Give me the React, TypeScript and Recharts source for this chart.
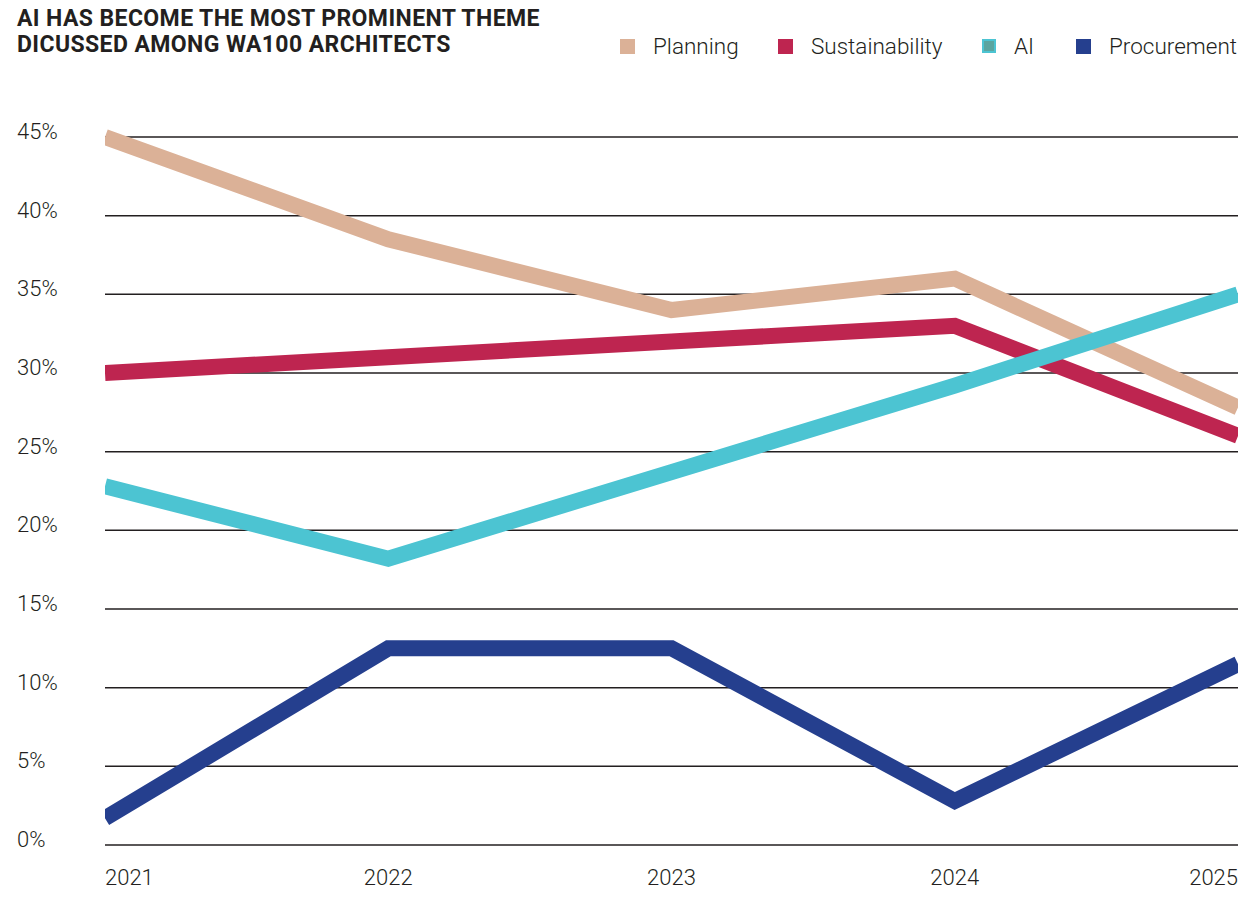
import React from 'react'
import { LineChart, Line, XAxis, YAxis, CartesianGrid } from 'recharts'

const years = ['2021', '2022', '2023', '2024', '2025']
const planning = [45, 38.5, 34, 36, 27.8]
const sustainability = [30, 31, 32, 33, 26]
const ai = [22.8, 18.2, 23.7, 29.2, 35]
const procurement = [1.7, 12.5, 12.5, 2.8, 11.5]
const yTicks = [0, 5, 10, 15, 20, 25, 30, 35, 40, 45]

const series = [
  { key: 'planning', name: 'Planning', color: '#dbb197' },
  { key: 'sustainability', name: 'Sustainability', color: '#be2550' },
  { key: 'ai', name: 'AI', color: '#4cc4d2' },
  { key: 'procurement', name: 'Procurement', color: '#253f8e' },
]

const chartData = years.map((year, i) => ({
  year,
  planning: planning[i],
  sustainability: sustainability[i],
  ai: ai[i],
  procurement: procurement[i],
}))

const textColor = '#231f20'
const labelFont = 'Roboto, "Liberation Sans", sans-serif'

const YTick = (props: any) => {
  const { y, payload } = props
  return (
    <text x={17} y={y + 2} fill={textColor} fontSize={22} fontWeight={300} fontFamily={labelFont} textAnchor="start">
      {payload.value}%
    </text>
  )
}

const XTick = (props: any) => {
  const { x, payload, index } = props
  const anchor = index === 0 ? 'start' : index === years.length - 1 ? 'end' : 'middle'
  return (
    <text x={x} y={885} fill={textColor} fontSize={22} fontWeight={300} fontFamily={labelFont} textAnchor={anchor}>
      {payload.value}
    </text>
  )
}

const legendPos = [620, 778, 982, 1076]

const App: React.FC = () => {
  return (
    <div style={{ position: 'relative', width: 1259, height: 909, margin: -8, background: '#fff' }}>
      <div
        style={{
          position: 'absolute',
          left: 17,
          top: 6,
          fontFamily: labelFont,
          fontWeight: 700,
          fontSize: 23,
          lineHeight: '26px',
          color: textColor,
          letterSpacing: 0.4,
        }}
      >
        AI HAS BECOME THE MOST PROMINENT THEME
        <br />
        DICUSSED AMONG WA100 ARCHITECTS
      </div>
      {series.map((s, i) => (
        <div
          key={s.key}
          style={{
            position: 'absolute',
            left: legendPos[i],
            top: 32,
            height: 28,
            display: 'flex',
            alignItems: 'center',
            fontFamily: labelFont,
            fontWeight: 300,
            fontSize: 22.5,
            color: textColor,
          }}
        >
          <span
            style={{
              display: 'inline-block',
              width: s.key === 'ai' ? 10 : 15,
              height: s.key === 'ai' ? 10 : 15,
              background: s.key === 'ai' ? '#5aa5a0' : s.color,
              border: s.key === 'ai' ? `2.5px solid ${s.color}` : 'none',
              marginRight: 18,
            }}
          />
          {s.name}
        </div>
      ))}
      <div style={{ position: 'absolute', left: 0, top: 0 }}>
        <LineChart width={1259} height={909} data={chartData} margin={{ top: 105.5, right: 21, bottom: 4, left: 17 }}>
          <CartesianGrid vertical={false} stroke={textColor} strokeWidth={1.5} syncWithTicks />
          <XAxis
            dataKey="year"
            axisLine={false}
            tickLine={false}
            height={60}
            tick={<XTick />}
            interval={0}
            allowDataOverflow
          />
          <YAxis
            domain={[0, 47]}
            ticks={yTicks}
            axisLine={false}
            tickLine={false}
            width={88}
            tick={<YTick />}
            interval={0}
          />
          {series.map((s) => (
            <Line
              key={s.key}
              type="linear"
              dataKey={s.key}
              name={s.name}
              stroke={s.color}
              strokeWidth={16}
              strokeLinejoin="miter"
              dot={false}
              activeDot={false}
              isAnimationActive={false}
            />
          ))}
        </LineChart>
      </div>
    </div>
  )
}

export default App
